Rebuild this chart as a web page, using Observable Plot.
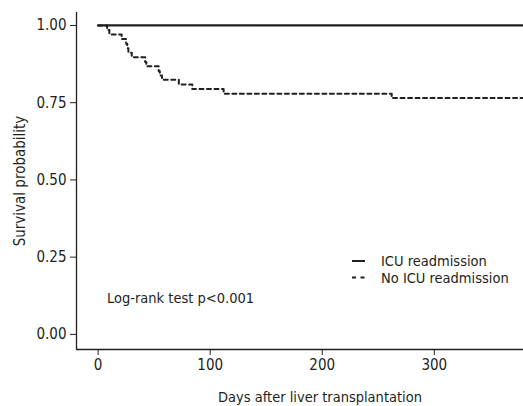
<!DOCTYPE html>
<html>
<head>
<meta charset="utf-8">
<script src="https://cdn.jsdelivr.net/npm/d3@7"></script>
<script src="https://cdn.jsdelivr.net/npm/@observablehq/plot@0.6"></script>
<style>
  html, body { margin: 0; padding: 0; background: #fff; }
  #chart svg { display: block; }
</style>
</head>
<body>
<div id="chart"></div>
<script>
// ---- data ----
const daysNoICU = [0, 8, 10, 21, 25, 26, 27, 30, 42, 43, 54, 55, 57, 72, 84, 112, 262, 379];
const survivalNoICU = [1, 0.985, 0.971, 0.956, 0.941, 0.926, 0.912, 0.897, 0.882, 0.868, 0.853, 0.838, 0.824, 0.809, 0.794, 0.779, 0.765, 0.765];
const daysICU = [0, 379];
const survivalICU = [1, 1];
const xTicks = [0, 100, 200, 300];
const yTicks = [0, 0.25, 0.5, 0.75, 1];
const xDomain = [-19.3, 379.6];
const yDomain = [-0.049, 1.042];
const seriesNames = ["ICU readmission", "No ICU readmission"];
const xLabel = "Days after liver transplantation";
const yLabel = "Survival probability";
const note = "Log-rank test p<0.001";

const ink = "#231f20";
const font = "'Liberation Sans Narrow', 'DejaVu Sans Condensed', 'Arial Narrow', sans-serif";

const icu = daysICU.map((d, i) => ({day: d, s: survivalICU[i]}));
const noIcu = daysNoICU.map((d, i) => ({day: d, s: survivalNoICU[i]}));

function legendMark(index, scales, values, dim) {
  const g = d3.create("svg:g").attr("font-family", font).attr("font-size", 14.5)
    .attr("fill", ink).attr("text-anchor", "start");
  const x0 = dim.marginLeft + 276, tx = dim.marginLeft + 305;
  const rows = [{y: 261, dash: null}, {y: 277.5, dash: "4,4.5"}];
  rows.forEach((r, i) => {
    const l = g.append("line").attr("x1", x0).attr("x2", x0 + 13)
      .attr("y1", r.y).attr("y2", r.y).attr("stroke", ink).attr("stroke-width", 2);
    if (r.dash) l.attr("stroke-dasharray", r.dash);
    g.append("text").attr("x", tx).attr("y", r.y).attr("dy", "0.35em")
      .attr("text-anchor", "start").text(seriesNames[i]);
  });
  g.append("text").attr("x", dim.marginLeft + 31).attr("y", 298).attr("dy", "0.35em")
    .attr("text-anchor", "start").text(note);
  return g.node();
}

const chart = Plot.plot({
  width: 523,
  height: 406,
  marginLeft: 76,
  marginRight: 0,
  marginTop: 12,
  marginBottom: 57,
  style: {fontFamily: font, fontSize: "15px", color: ink, background: "#fff"},
  x: {domain: xDomain},
  y: {domain: yDomain},
  marks: [
    Plot.axisY({ticks: yTicks, tickFormat: d3.format(".2f"), tickSize: 6, tickPadding: 4,
      label: yLabel, labelAnchor: "center", labelArrow: "none", labelOffset: 62, stroke: ink, fill: ink}),
    Plot.axisX({ticks: xTicks, tickSize: 6, tickPadding: 4, label: null, stroke: ink, fill: ink}),
    Plot.text([xLabel], {frameAnchor: "bottom", dx: 20, dy: 52, text: d => d, fontSize: 14.5, fill: ink}),
    Plot.ruleX([xDomain[0]], {stroke: ink, strokeWidth: 1.3}),
    Plot.ruleY([yDomain[0]], {stroke: ink, strokeWidth: 1.3}),
    Plot.line(icu, {x: "day", y: "s", curve: "step-after", stroke: ink, strokeWidth: 2.2}),
    Plot.line(noIcu, {x: "day", y: "s", curve: "step-after", stroke: ink, strokeWidth: 2, strokeDasharray: "4,3.5"}),
    legendMark
  ]
});
document.getElementById("chart").appendChild(chart);
</script>
</body>
</html>
